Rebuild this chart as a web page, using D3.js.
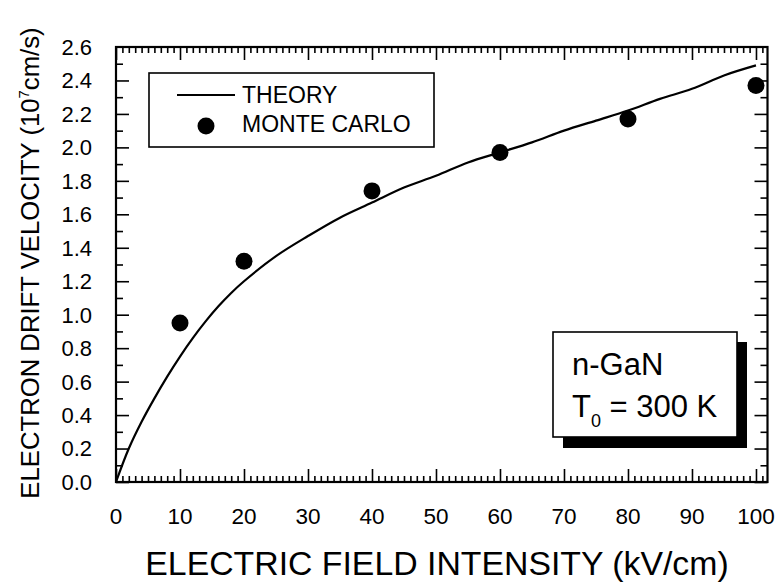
<!DOCTYPE html>
<html><head><meta charset="utf-8">
<script src="https://cdn.jsdelivr.net/npm/d3@7"></script>
<style>body{margin:0;background:#fff}svg{display:block}text{font-family:"Liberation Sans",Arial,sans-serif;fill:#000}</style>
</head><body>
<svg id="c" width="782" height="583"></svg>
<script>
const theoryX = [0,2,4,6,8,10,12,14,16,18,20,25,30,35,40,45,50,55,60,65,70,75,80,85,90,95,100];
const theoryY = [0,0.2,0.36,0.5,0.63,0.75,0.86,0.96,1.05,1.13,1.2,1.35,1.47,1.58,1.67,1.76,1.83,1.91,1.97,2.03,2.10,2.16,2.22,2.29,2.35,2.43,2.49];
const mcX = [10,20,40,60,80,100];
const mcY = [0.95,1.32,1.74,1.97,2.17,2.37];
const xTickLabels = [0,10,20,30,40,50,60,70,80,90,100];
const yTickLabels = ["0.0","0.2","0.4","0.6","0.8","1.0","1.2","1.4","1.6","1.8","2.0","2.2","2.4","2.6"];
const legendLabels = ["THEORY","MONTE CARLO"];

const svg = d3.select("#c");
const L=116, R=767.5, T=47, B=482;
const x = d3.scaleLinear().domain([0,101.8]).range([L,R]);
const y = d3.scaleLinear().domain([0,2.6]).range([B,T]);

const xMinor = d3.range(0,102,1);
const yMinor = d3.range(0,26,1).map(d=>d/10);
function isMajX(d){return d%10===0;}
function isMajY(d){return Math.round(d*10)%2===0;}

const gb = svg.append("g").attr("transform",`translate(0,${B})`)
  .call(d3.axisBottom(x).tickValues(xMinor).tickSizeOuter(0).tickFormat(""));
gb.selectAll(".tick line").attr("y2",d=>isMajX(d)?-13:-6);
const gt = svg.append("g").attr("transform",`translate(0,${T})`)
  .call(d3.axisTop(x).tickValues(xMinor).tickSizeOuter(0).tickFormat(""));
gt.selectAll(".tick line").attr("y2",d=>isMajX(d)?13:6);
const gl = svg.append("g").attr("transform",`translate(${L},0)`)
  .call(d3.axisLeft(y).tickValues(yMinor).tickSizeOuter(0).tickFormat(""));
gl.selectAll(".tick line").attr("x2",d=>isMajY(d)?13:7);
const gr = svg.append("g").attr("transform",`translate(${R},0)`)
  .call(d3.axisRight(y).tickValues(yMinor).tickSizeOuter(0).tickFormat(""));
gr.selectAll(".tick line").attr("x2",d=>isMajY(d)?-13:-7);
svg.selectAll(".domain").remove();
svg.selectAll(".tick line").attr("stroke","#000").attr("stroke-width",1.6);

svg.append("rect").attr("x",L).attr("y",T).attr("width",R-L).attr("height",B-T)
  .attr("fill","none").attr("stroke","#000").attr("stroke-width",2.2);

svg.append("g").selectAll("text").data(xTickLabels).join("text")
  .attr("x",d=>x(d)).attr("y",B+42).attr("text-anchor","middle")
  .attr("font-size",22.5).text(d=>d);
svg.append("g").selectAll("text").data(yTickLabels).join("text")
  .attr("x",L-24).attr("y",d=>y(+d)).attr("dy","0.36em").attr("text-anchor","end")
  .attr("font-size",22).text(d=>d);

svg.append("text").attr("x",437).attr("y",575).attr("text-anchor","middle")
  .attr("font-size",33.8).text("ELECTRIC FIELD INTENSITY (kV/cm)");
const yt = svg.append("text").attr("transform","translate(39,263) rotate(-90)")
  .attr("text-anchor","middle").attr("font-size",25.7);
yt.append("tspan").text("ELECTRON DRIFT VELOCITY (10");
yt.append("tspan").attr("font-size",15).attr("dy",-10).text("7");
yt.append("tspan").attr("dy",10).text("cm/s)");

const pts = theoryX.map((d,i)=>[d,theoryY[i]]);
svg.append("path").datum(pts).attr("fill","none").attr("stroke","#000").attr("stroke-width",2.2)
  .attr("d",d3.line().x(d=>x(d[0])).y(d=>y(d[1])).curve(d3.curveCatmullRom));

svg.append("g").selectAll("circle").data(mcX.map((d,i)=>[d,mcY[i]])).join("circle")
  .attr("cx",d=>x(d[0])).attr("cy",d=>y(d[1])).attr("r",8.5).attr("fill","#000");

svg.append("rect").attr("x",149).attr("y",73).attr("width",285).attr("height",74)
  .attr("fill","#fff").attr("stroke","#000").attr("stroke-width",1.6);
svg.append("line").attr("x1",177).attr("x2",235).attr("y1",95).attr("y2",95)
  .attr("stroke","#000").attr("stroke-width",2.2);
svg.append("circle").attr("cx",206).attr("cy",126).attr("r",8.5).attr("fill","#000");
svg.append("text").attr("x",242).attr("y",103).attr("font-size",23).text(legendLabels[0]);
svg.append("text").attr("x",242).attr("y",132).attr("font-size",23).text(legendLabels[1]);

svg.append("rect").attr("x",563).attr("y",342).attr("width",184).attr("height",106).attr("fill","#000");
svg.append("rect").attr("x",553).attr("y",332).attr("width",184).attr("height",105)
  .attr("fill","#fff").attr("stroke","#000").attr("stroke-width",1.6);
svg.append("text").attr("x",572).attr("y",375).attr("font-size",31).text("n-GaN");
const t0 = svg.append("text").attr("x",572).attr("y",417).attr("font-size",31);
t0.append("tspan").text("T");
t0.append("tspan").attr("font-size",18).attr("dy",10).text("0");
t0.append("tspan").attr("dy",-10).text(" = 300 K");
</script>
</body></html>
